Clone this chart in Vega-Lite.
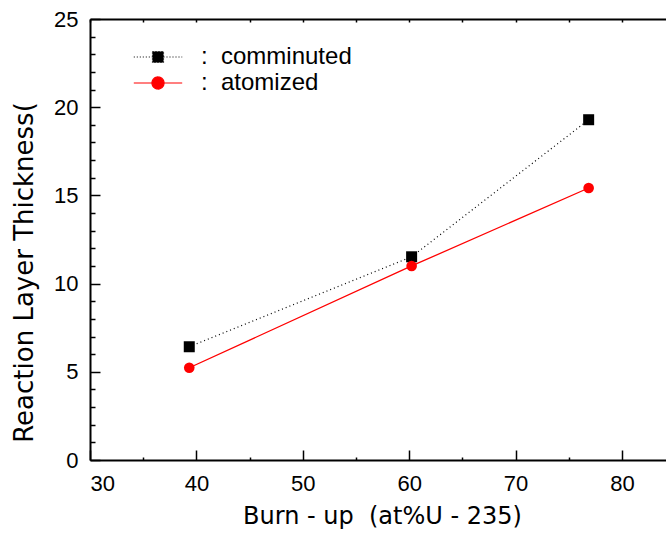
{
  "$schema": "https://vega.github.io/schema/vega-lite/v6.json",
  "width": 576,
  "height": 441,
  "autosize": {"type": "none"},
  "padding": {"left": 90, "top": 19, "right": 0, "bottom": 78},
  "background": "white",
  "config": {
    "view": {"stroke": null},
    "font": "Liberation Sans",
    "axis": {
      "grid": false,
      "domainColor": "black",
      "domainWidth": 2,
      "tickColor": "black",
      "tickWidth": 1.5,
      "labelColor": "black",
      "titleColor": "black",
      "labelFont": "Liberation Sans",
      "labelFontSize": 22,
      "titleFontWeight": "normal"
    }
  },
  "data": {
    "values": [
      {"series": "comminuted", "x": 39.33, "y": 6.42},
      {"series": "comminuted", "x": 60.23, "y": 11.52},
      {"series": "comminuted", "x": 76.87, "y": 19.29},
      {"series": "atomized", "x": 39.33, "y": 5.23},
      {"series": "atomized", "x": 60.23, "y": 11.0},
      {"series": "atomized", "x": 76.87, "y": 15.42}
    ]
  },
  "layer": [
    {
      "transform": [{"filter": "datum.series === 'comminuted'"}],
      "mark": {"type": "line", "color": "black", "strokeWidth": 1.2, "strokeDash": [1, 3]},
      "encoding": {
        "x": {"field": "x", "type": "quantitative", "scale": {"domain": [30, 84.14], "nice": false, "zero": false},
          "axis": {"orient": "bottom", "values": [30, 40, 50, 60, 70, 80], "tickSize": -10, "labelPadding": 23,
            "title": "Burn - up\u00a0\u00a0(at%U - 235)", "titleFont": "DejaVu Sans", "titleFontSize": 24,
            "titleX": 292, "titleY": 63, "titleBaseline": "alphabetic", "titleAlign": "center"}},
        "y": {"field": "y", "type": "quantitative", "scale": {"domain": [0, 25], "nice": false},
          "axis": {"orient": "left", "values": [0, 5, 10, 15, 20, 25], "tickSize": -10, "labelPadding": 22,
            "title": "Reaction Layer Thickness(", "titleFont": "DejaVu Sans", "titleFontSize": 26,
            "titleAngle": -90, "titleX": -58, "titleY": 253, "titleBaseline": "alphabetic", "titleAlign": "center"}}
      }
    },
    {
      "transform": [{"filter": "datum.series === 'atomized'"}],
      "mark": {"type": "line", "color": "#ff0000", "strokeWidth": 1.3},
      "encoding": {
        "x": {"field": "x", "type": "quantitative", "axis": null},
        "y": {"field": "y", "type": "quantitative", "axis": null}
      }
    },
    {
      "transform": [{"filter": "datum.series === 'comminuted'"}],
      "mark": {"type": "point", "shape": "square", "filled": true, "color": "black", "size": 121, "opacity": 1},
      "encoding": {
        "x": {"field": "x", "type": "quantitative", "axis": null},
        "y": {"field": "y", "type": "quantitative", "axis": null}
      }
    },
    {
      "transform": [{"filter": "datum.series === 'atomized'"}],
      "mark": {"type": "point", "shape": "circle", "filled": true, "color": "#ff0000", "size": 113, "opacity": 1},
      "encoding": {
        "x": {"field": "x", "type": "quantitative", "axis": null},
        "y": {"field": "y", "type": "quantitative", "axis": null}
      }
    },
    {
      "mark": {"type": "point", "opacity": 0},
      "encoding": {
        "x": {"field": "x", "type": "quantitative",
          "axis": {"orient": "bottom", "values": [35, 45, 55, 65, 75], "tickSize": -3, "labels": false, "domain": false, "title": null}},
        "y": {"field": "y", "type": "quantitative",
          "axis": {"orient": "left", "values": [1, 2, 3, 4, 6, 7, 8, 9, 11, 12, 13, 14, 16, 17, 18, 19, 21, 22, 23, 24], "tickSize": -5, "labels": false, "domain": false, "title": null}}
      }
    },
    {
      "mark": {"type": "point", "opacity": 0},
      "encoding": {
        "x": {"field": "x", "type": "quantitative",
          "axis": {"orient": "top", "values": [30, 35, 40, 45, 50, 55, 60, 65, 70, 75, 80], "tickSize": -3, "labels": false, "domain": true, "title": null}},
        "y": {"field": "y", "type": "quantitative", "axis": null}
      }
    },
    {
      "mark": {"type": "point", "opacity": 0, "filled": true},
      "encoding": {
        "x": {"field": "x", "type": "quantitative", "axis": null},
        "y": {"field": "y", "type": "quantitative", "axis": null},
        "size": {"value": 484},
        "fill": {"field": "series", "type": "nominal",
          "scale": {"domain": ["comminuted", "atomized"], "range": ["black", "#ff0000"]},
          "legend": {"orient": "none", "legendX": 56, "legendY": 26, "title": null, "padding": 0,
            "labelExpr": "':\u00a0\u00a0' + datum.label", "labelFont": "Liberation Sans", "labelFontSize": 24, "labelColor": "black",
            "labelOffset": 31, "rowPadding": 2, "symbolOpacity": 1, "symbolStrokeWidth": 1.2, "symbolSize": 484}},
        "stroke": {"field": "series", "type": "nominal",
          "scale": {"domain": ["comminuted", "atomized"], "range": ["black", "#ff0000"]},
          "legend": {"orient": "none", "legendX": 56, "legendY": 26, "title": null, "padding": 0,
            "labelExpr": "':\u00a0\u00a0' + datum.label", "labelFont": "Liberation Sans", "labelFontSize": 24, "labelColor": "black",
            "labelOffset": 31, "rowPadding": 2, "symbolOpacity": 1, "symbolStrokeWidth": 1.2, "symbolSize": 484}},
        "shape": {"field": "series", "type": "nominal",
          "scale": {"domain": ["comminuted", "atomized"],
            "range": ["M-2.2,0H-0.5M0.5,0H2.2M-0.5,-0.5H0.5V0.5H-0.5Z", "M-2.2,0H-0.55M0.55,0H2.2M0.55,0A0.55,0.55,0,1,1,-0.55,0A0.55,0.55,0,1,1,0.55,0Z"]},
          "legend": {"orient": "none", "legendX": 56, "legendY": 26, "title": null, "padding": 0,
            "labelExpr": "':\u00a0\u00a0' + datum.label", "labelFont": "Liberation Sans", "labelFontSize": 24, "labelColor": "black",
            "labelOffset": 31, "rowPadding": 2, "symbolOpacity": 1, "symbolStrokeWidth": 1.2, "symbolSize": 484}},
        "strokeDash": {"field": "series", "type": "nominal",
          "scale": {"domain": ["comminuted", "atomized"], "range": [[1, 2], [1, 0]]},
          "legend": {"orient": "none", "legendX": 56, "legendY": 26, "title": null, "padding": 0,
            "labelExpr": "':\u00a0\u00a0' + datum.label", "labelFont": "Liberation Sans", "labelFontSize": 24, "labelColor": "black",
            "labelOffset": 31, "rowPadding": 2, "symbolOpacity": 1, "symbolStrokeWidth": 1.2, "symbolSize": 484}}
      }
    }
  ],
  "resolve": {"axis": {"x": "independent", "y": "independent"}}
}
